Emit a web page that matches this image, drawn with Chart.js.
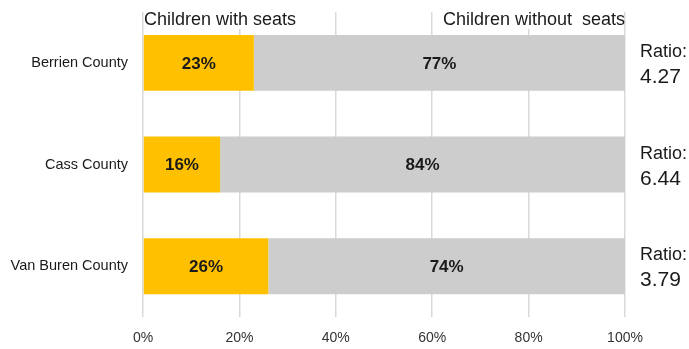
<!DOCTYPE html>
<html>
<head>
<meta charset="utf-8">
<script src="https://cdn.jsdelivr.net/npm/chart.js@4"></script>
<style>
  html, body { margin: 0; padding: 0; background: #fff; }
  #wrap { width: 689px; height: 349px; position: relative; }
</style>
</head>
<body>
<div id="wrap"><canvas id="seats"></canvas></div>
<script>
const counties = ['Berrien County', 'Cass County', 'Van Buren County'];
const withSeats = [23, 16, 26];
const withoutSeats = [77, 84, 74];
const ratios = ['4.27', '6.44', '3.79'];
const xTicks = [0, 20, 40, 60, 80, 100];

const FONT = "'Liberation Sans', Arial, sans-serif";

// percentage text in the middle of each bar segment
const barLabels = {
  id: 'barLabels',
  afterDatasetsDraw(chart) {
    const ctx = chart.ctx;
    ctx.save();
    ctx.font = 'bold 17px ' + FONT;
    ctx.fillStyle = '#1a1a1a';
    ctx.textAlign = 'center';
    ctx.textBaseline = 'middle';
    chart.data.datasets.forEach((ds, i) => {
      chart.getDatasetMeta(i).data.forEach((bar, j) => {
        const cx = (bar.x + bar.base) / 2;
        ctx.fillText(ds.data[j] + '%', cx, bar.y + 1);
      });
    });
    ctx.restore();
  }
};

// series names along the top, plus ratio notes to the right of each bar
const sideText = {
  id: 'sideText',
  afterDraw(chart) {
    const ctx = chart.ctx;
    const area = chart.chartArea;
    ctx.save();
    ctx.font = '18px ' + FONT;
    ctx.textBaseline = 'alphabetic';
    const left = 'Children with seats';
    const right = 'Children without  seats';
    const lw = ctx.measureText(left).width;
    const rw = ctx.measureText(right).width;
    ctx.fillStyle = '#fff';
    ctx.fillRect(area.left + 1, area.top, lw + 2, 17);
    ctx.fillRect(area.right - rw - 2, area.top, rw + 1, 17);
    ctx.fillStyle = '#1a1a1a';
    ctx.textAlign = 'left';
    ctx.fillText(left, area.left + 1, area.top + 13);
    ctx.textAlign = 'right';
    ctx.fillText(right, area.right, area.top + 13);

    const y = chart.scales.y;
    ctx.textAlign = 'left';
    ratios.forEach((r, i) => {
      const cy = y.getPixelForValue(i);
      ctx.font = '18px ' + FONT;
      ctx.fillText('Ratio:', area.right + 15, cy - 6);
      ctx.font = '21px ' + FONT;
      ctx.fillText(r, area.right + 15, cy + 20);
    });
    ctx.restore();
  }
};

new Chart(document.getElementById('seats'), {
  type: 'bar',
  data: {
    labels: counties,
    datasets: [
      {
        label: 'Children with seats',
        data: withSeats,
        backgroundColor: '#ffc000',
        barPercentage: 0.55,
        categoryPercentage: 1
      },
      {
        label: 'Children without seats',
        data: withoutSeats,
        backgroundColor: '#cdcdcd',
        barPercentage: 0.55,
        categoryPercentage: 1
      }
    ]
  },
  options: {
    indexAxis: 'y',
    responsive: true,
    maintainAspectRatio: false,
    animation: false,
    layout: { padding: { top: 12, right: 64, bottom: 0, left: 0 } },
    plugins: {
      legend: { display: false },
      tooltip: { enabled: false }
    },
    scales: {
      x: {
        stacked: true,
        min: 0,
        max: 100,
        afterBuildTicks(scale) {
          scale.ticks = xTicks.map(v => ({ value: v }));
        },
        afterFit(scale) {
          scale.height = 32;
          scale.paddingTop = 0;
          scale.paddingBottom = 0;
        },
        grid: { color: '#d9d9d9', lineWidth: 1.5, drawTicks: false },
        border: { display: false },
        ticks: {
          padding: 13,
          color: '#333',
          font: { family: FONT, size: 14 },
          callback: v => v + '%'
        }
      },
      y: {
        stacked: true,
        grid: { display: false },
        border: { display: false },
        afterFit(scale) {
          scale.width = 143;
          scale.paddingTop = 0;
          scale.paddingBottom = 0;
        },
        ticks: {
          padding: 7,
          color: '#1a1a1a',
          font: { family: FONT, size: 14.5 }
        }
      }
    }
  },
  plugins: [barLabels, sideText]
});
</script>
</body>
</html>
